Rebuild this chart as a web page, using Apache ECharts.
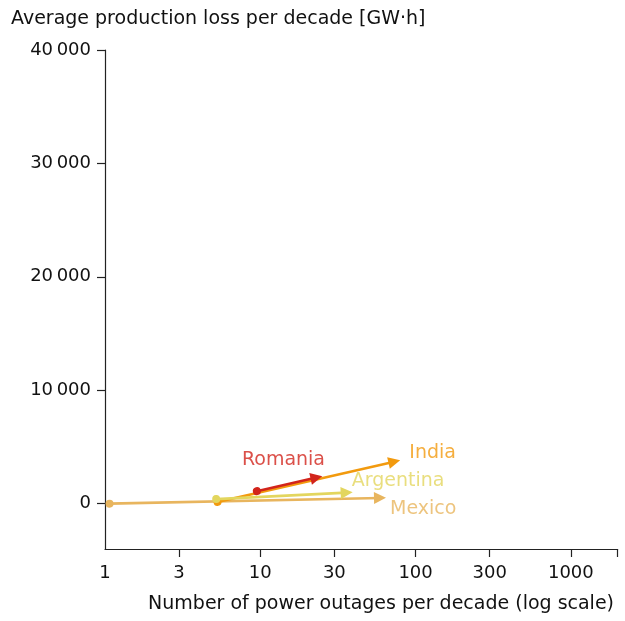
<!DOCTYPE html>
<html><head><meta charset="utf-8">
<script src="https://cdn.jsdelivr.net/npm/echarts@6/dist/echarts.min.js"></script>
<style>html,body{margin:0;padding:0;background:#fff}#c{width:625px;height:621px}</style>
</head><body><div id="c"></div><script>
// ---- data ----
const countries = ['Mexico', 'India', 'Argentina', 'Romania'];
const startX = [1.07, 5.3, 5.2, 9.5];     // outages per decade (first decade)
const startY = [0, 150, 400, 1100];       // GW·h (first decade)
const endX = [59, 73, 36, 23];            // outages per decade (second decade)
const endY = [500, 3700, 970, 2300];      // GW·h (second decade)
const xTickLabels = [1, 3, 10, 30, 100, 300, 1000];
const xTicks = [3, 10, 30, 100, 300, 1000, 2000];
const yTicks = [0, 10000, 20000, 30000, 40000];

// ---- style ----
const colors = ['#e8b55e', '#f29a0e', '#e3d65e', '#d2241b'];
const labelOffsets = [[10, 11], [15, -9], [5, -12], [-33, -17]];
const labelAligns = ['left', 'left', 'left', 'center'];
const FONT = 'DejaVu Sans';

const chart = echarts.init(document.getElementById('c'), null, {renderer: 'canvas'});

const series = [];
countries.forEach((name, i) => {
  series.push({
    type: 'lines',
    name: name,
    coordinateSystem: 'cartesian2d',
    z: 2 + i,
    symbol: ['circle', 'triangle'],
    symbolSize: [8, 12],
    lineStyle: {color: colors[i], width: 2.6, opacity: 1},
    itemStyle: {color: colors[i]},
    silent: true,
    data: [{coords: [[startX[i], startY[i]], [endX[i], endY[i]]]}]
  });
});
series.push({
  type: 'scatter',
  symbolSize: 0,
  silent: true,
  z: 10,
  data: countries.map((name, i) => ({
    value: [endX[i], endY[i]],
    label: {
      show: true,
      formatter: name,
      position: labelOffsets[i],
      align: labelAligns[i],
      verticalAlign: 'middle',
      color: colors[i],
      fontFamily: FONT,
      fontSize: 19
    }
  }))
});

const axisLine = {show: true, onZero: false, lineStyle: {color: '#222', width: 1.2}};
chart.setOption({
  animation: false,
  backgroundColor: '#fff',
  grid: {left: 105, right: 7.4, top: 50, bottom: 72, containLabel: false},
  xAxis: {
    type: 'log', logBase: 10, min: 1, max: 2000,
    axisLine: axisLine,
    axisTick: {show: true, length: 8, customValues: xTicks, lineStyle: {color: '#222', width: 1.2}},
    minorTick: {show: false},
    splitLine: {show: false},
    axisLabel: {customValues: xTickLabels, margin: 15, color: '#111', fontFamily: FONT, fontSize: 18,
      formatter: v => String(Math.round(v))}
  },
  yAxis: {
    type: 'value', min: -4000, max: 40000,
    axisLine: axisLine,
    axisTick: {show: true, length: 8, customValues: yTicks, lineStyle: {color: '#222', width: 1.2}},
    splitLine: {show: false},
    axisLabel: {customValues: yTicks, margin: 14, color: '#111', fontFamily: FONT, fontSize: 18,
      formatter: v => v === 0 ? '0' : String(v / 1000) + '\u2009000'}
  },
  graphic: [
    {type: 'text', style: {x: 11, y: 19, text: 'Average production loss per decade [GW·h]',
      fontFamily: FONT, fontSize: 19, fill: '#111', align: 'left', verticalAlign: 'middle'}},
    {type: 'text', style: {x: 614, y: 604, text: 'Number of power outages per decade (log scale)',
      fontFamily: FONT, fontSize: 19, fill: '#111', align: 'right', verticalAlign: 'middle'}}
  ],
  series: series
});
</script></body></html>
